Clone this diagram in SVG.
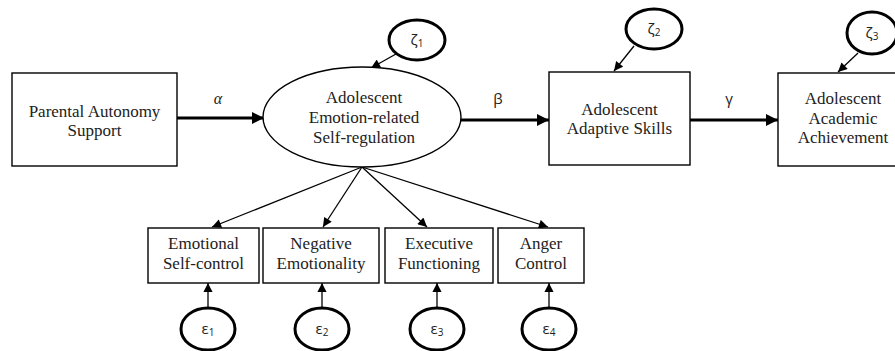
<svg xmlns="http://www.w3.org/2000/svg" width="895" height="351" viewBox="0 0 895 351">
<defs>
<marker id="ah" viewBox="0 0 10 10" refX="10" refY="5" markerWidth="4" markerHeight="4" markerUnits="strokeWidth" orient="auto">
<path d="M0,0 L10,5 L0,10 z" fill="#000"/>
</marker>
<marker id="as" viewBox="0 0 10 10" refX="10" refY="5" markerWidth="8" markerHeight="7" markerUnits="strokeWidth" orient="auto">
<path d="M0,0 L10,5 L0,10 z" fill="#000"/>
</marker>
<style>
.box{fill:#fff;stroke:#000;stroke-width:1.4}
.err{fill:#fff;stroke:#000;stroke-width:3}
.lbl{font-family:'Liberation Serif','DejaVu Serif',serif;font-size:17px;fill:#222;text-anchor:middle}
.gk{font-family:'Open Sans','DejaVu Sans',sans-serif;font-size:15px;fill:#222;text-anchor:middle}
.al{font-family:'Liberation Serif','DejaVu Serif',serif;font-style:italic;font-size:16px;fill:#222;text-anchor:middle}
.sub{font-size:10px}
.thick{stroke:#000;stroke-width:3;fill:none;marker-end:url(#ah)}
.thin{stroke:#000;stroke-width:1.3;fill:none;marker-end:url(#as)}
</style>
</defs>
<rect width="895" height="351" fill="#fff"/>

<g id="connectors">
<line class="thick" x1="177" y1="118" x2="264" y2="118"/>
<line class="thick" x1="461" y1="120" x2="549" y2="120"/>
<line class="thick" x1="690" y1="120" x2="778" y2="120"/>
<line class="thin" x1="396" y1="54" x2="371" y2="68"/>
<line class="thin" x1="634" y1="46" x2="614" y2="71"/>
<line class="thin" x1="858" y1="53" x2="838" y2="72"/>
<line class="thin" x1="362" y1="167" x2="212" y2="227"/>
<line class="thin" x1="362" y1="167" x2="323" y2="227"/>
<line class="thin" x1="362" y1="167" x2="427" y2="227"/>
<line class="thin" x1="362" y1="167" x2="548" y2="227"/>
<line class="thin" x1="208" y1="308" x2="208" y2="283"/>
<line class="thin" x1="322" y1="308" x2="322" y2="283"/>
<line class="thin" x1="437" y1="308" x2="437" y2="283"/>
<line class="thin" x1="549" y1="308" x2="549" y2="283"/>
<text class="al" x="218" y="104">α</text>
<text class="gk" x="498" y="104">β</text>
<text class="gk" x="729" y="104">γ</text>
</g>

<g id="parental">
<rect class="box" x="12" y="73" width="165" height="93"/>
<text class="lbl" x="94.5" y="117">Parental Autonomy</text>
<text class="lbl" x="94.5" y="136">Support</text>
</g>

<g id="regulation">
<ellipse cx="362" cy="117" rx="99" ry="50" fill="#fff" stroke="#000" stroke-width="1.4"/>
<text class="lbl" x="364" y="103">Adolescent</text>
<text class="lbl" x="364" y="123">Emotion-related</text>
<text class="lbl" x="364" y="143">Self-regulation</text>
</g>

<g id="zeta1">
<ellipse class="err" cx="417" cy="40" rx="28" ry="20"/>
<text class="gk" x="417" y="45">ζ<tspan class="sub" dy="2">1</tspan></text>
</g>

<g id="adaptive">
<rect class="box" x="549" y="72" width="141" height="93"/>
<text class="lbl" x="619.5" y="115">Adolescent</text>
<text class="lbl" x="619.5" y="134">Adaptive Skills</text>
</g>

<g id="zeta2">
<ellipse class="err" cx="654" cy="29" rx="28" ry="20"/>
<text class="gk" x="654" y="34">ζ<tspan class="sub" dy="2">2</tspan></text>
</g>

<g id="achievement">
<rect class="box" x="778" y="73" width="130" height="93"/>
<text class="lbl" x="843" y="104">Adolescent</text>
<text class="lbl" x="843" y="124">Academic</text>
<text class="lbl" x="843" y="143">Achievement</text>
</g>

<g id="zeta3">
<ellipse class="err" cx="872" cy="33" rx="25" ry="21"/>
<text class="gk" x="872" y="38">ζ<tspan class="sub" dy="2">3</tspan></text>
</g>

<g id="emotional">
<rect class="box" x="148" y="228" width="111" height="55"/>
<text class="lbl" x="203.5" y="249">Emotional</text>
<text class="lbl" x="203.5" y="269">Self-control</text>
</g>

<g id="negative">
<rect class="box" x="263" y="228" width="116" height="55"/>
<text class="lbl" x="321" y="249">Negative</text>
<text class="lbl" x="321" y="269">Emotionality</text>
</g>

<g id="executive">
<rect class="box" x="385" y="228" width="108" height="55"/>
<text class="lbl" x="439" y="249">Executive</text>
<text class="lbl" x="439" y="269">Functioning</text>
</g>

<g id="anger">
<rect class="box" x="498" y="228" width="86" height="55"/>
<text class="lbl" x="541" y="249">Anger</text>
<text class="lbl" x="541" y="269">Control</text>
</g>

<g id="eps1">
<ellipse class="err" cx="208" cy="329" rx="27" ry="21"/>
<text class="gk" x="208" y="334">ε<tspan class="sub" dy="2">1</tspan></text>
</g>
<g id="eps2">
<ellipse class="err" cx="322" cy="329" rx="27" ry="21"/>
<text class="gk" x="322" y="334">ε<tspan class="sub" dy="2">2</tspan></text>
</g>
<g id="eps3">
<ellipse class="err" cx="437" cy="329" rx="27" ry="21"/>
<text class="gk" x="437" y="334">ε<tspan class="sub" dy="2">3</tspan></text>
</g>
<g id="eps4">
<ellipse class="err" cx="549" cy="329" rx="27" ry="21"/>
<text class="gk" x="549" y="334">ε<tspan class="sub" dy="2">4</tspan></text>
</g>
</svg>
